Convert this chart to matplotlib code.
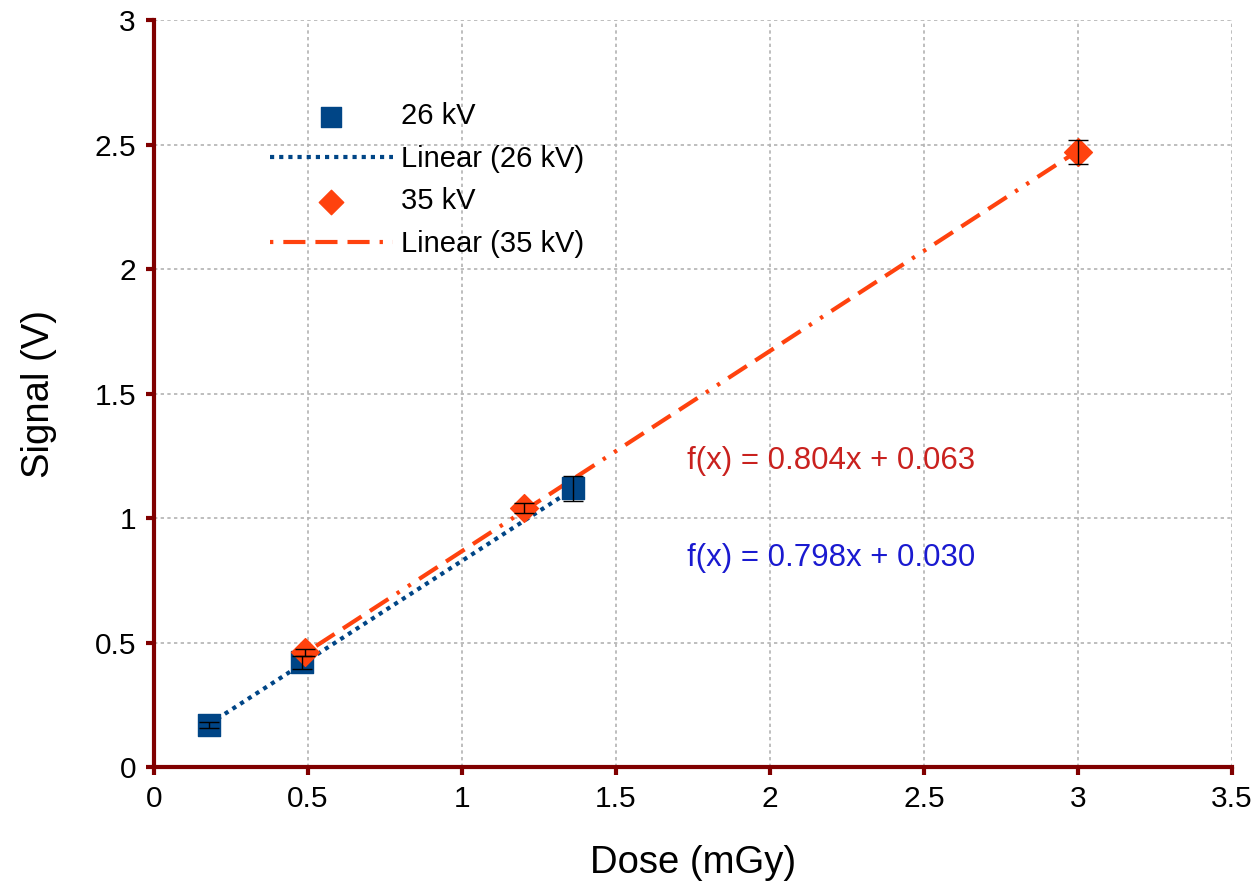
"""Detector signal vs. dose for two tube voltages, with linear fits."""

import matplotlib

matplotlib.use("Agg")
import matplotlib.pyplot as plt  # noqa: E402
import numpy as np  # noqa: E402

plt.rcParams.update({"font.family": ["Liberation Sans", "DejaVu Sans"], "font.size": 21})

NAVY, ORANGE, AXIS = "#004586", "#ff420e", "#800000"

# measurements
dose_26 = np.array([0.18, 0.48, 1.36])
signal_26 = np.array([0.17, 0.42, 1.12])
err_26 = np.array([0.012, 0.025, 0.05])

dose_35 = np.array([0.49, 1.20, 3.00])
signal_35 = np.array([0.46, 1.04, 2.47])
err_35 = np.array([0.015, 0.02, 0.05])

# linear fit coefficients (slope, intercept)
fit_26 = (0.798, 0.030)
fit_35 = (0.804, 0.063)

# three long dashes followed by two dots
DASH_DOT_DOT = (26.3, (5.3, 2.4, 5.3, 2.4, 5.3, 2.4, 0.8, 2.4, 0.8, 2.4))

fig = plt.figure(figsize=(12.57, 8.85), dpi=100)
ax = fig.add_axes([0.1225, 0.1333, 0.8576, 0.8441])

xs = np.array([dose_26.min(), dose_26.max()])
ax.plot(xs, fit_26[0] * xs + fit_26[1], color=NAVY, lw=3, ls=(0, (1, 1.2)),
        label="Linear (26 kV)", zorder=3)
xs = np.array([dose_35.min(), dose_35.max()])
ax.plot(xs, fit_35[0] * xs + fit_35[1], color=ORANGE, lw=3, ls=DASH_DOT_DOT,
        label="Linear (35 kV)", zorder=3)

ax.scatter(dose_26, signal_26, marker="s", s=260, color=NAVY, zorder=4, label="26 kV")
ax.scatter(dose_35, signal_35, marker="D", s=200, color=ORANGE, zorder=4, label="35 kV")
ax.errorbar(dose_26, signal_26, yerr=err_26, fmt="none", ecolor="black", elinewidth=1,
            capsize=7, zorder=5)
ax.errorbar(dose_35, signal_35, yerr=err_35, fmt="none", ecolor="black", elinewidth=1,
            capsize=7, zorder=5)

ax.text(1.73, 1.23, f"f(x) = {fit_35[0]:.3f}x + {fit_35[1]:.3f}", color="#c9211e",
        fontsize=22.5, va="center")
ax.text(1.73, 0.84, f"f(x) = {fit_26[0]:.3f}x + {fit_26[1]:.3f}", color="#1a1ad0",
        fontsize=22.5, va="center")

ax.set_xlim(0, 3.5)
ax.set_ylim(0, 3)
ax.set_xticks(np.arange(0, 3.51, 0.5))
ax.set_yticks(np.arange(0, 3.01, 0.5))
ax.set_xticklabels(["0", "0.5", "1", "1.5", "2", "2.5", "3", "3.5"])
ax.set_yticklabels(["0", "0.5", "1", "1.5", "2", "2.5", "3"])
ax.grid(True, color="#b3b3b3", ls=(0, (2, 2)), lw=1.2)
ax.set_axisbelow(True)
for side in ("top", "right"):
    ax.spines[side].set_visible(False)
for side in ("left", "bottom"):
    ax.spines[side].set_color(AXIS)
    ax.spines[side].set_linewidth(3)
ax.tick_params(color=AXIS, width=3, length=6, direction="out", pad=7, labelsize=21.5)
ax.set_xlabel("Dose (mGy)", fontsize=27.5, labelpad=23)
ax.set_ylabel("Signal (V)", fontsize=27.5, labelpad=27)

h, l = ax.get_legend_handles_labels()
order = [l.index(n) for n in ["26 kV", "Linear (26 kV)", "35 kV", "Linear (35 kV)"]]
ax.legend([h[i] for i in order], [l[i] for i in order], frameon=False, fontsize=21,
          loc="upper left", bbox_to_anchor=(0.0835, 0.925), handlelength=4.2,
          labelspacing=0.5, handletextpad=0.28, markerscale=0.88)

fig.savefig("out.png", dpi=100)
